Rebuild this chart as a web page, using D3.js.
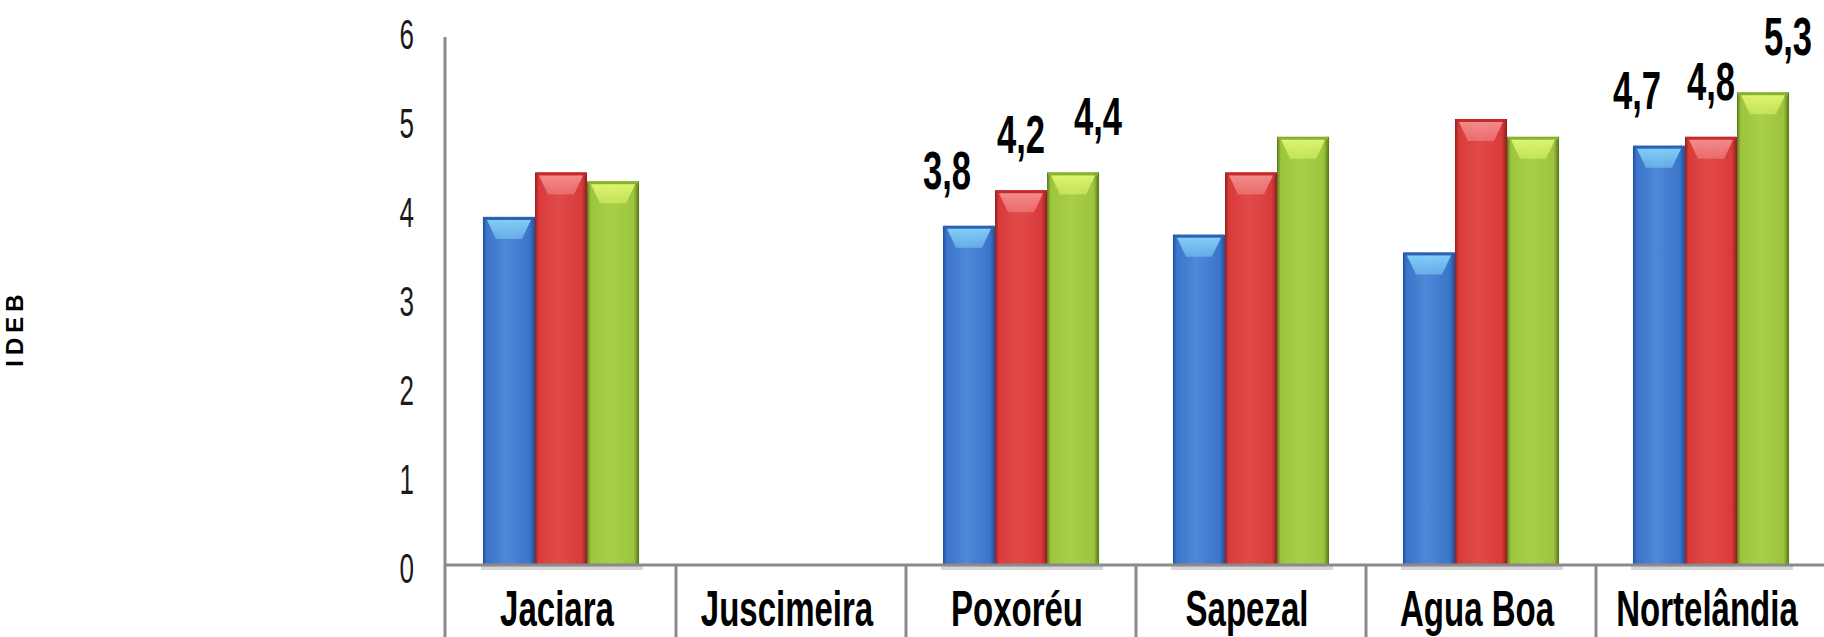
<!DOCTYPE html>
<html><head><meta charset="utf-8">
<script src="https://cdn.jsdelivr.net/npm/d3@7"></script>
<style>body{margin:0;background:#fff}svg{display:block}</style>
</head><body>
<script>
// ---- data ----
const categories = ["Jaciara", "Juscimeira", "Poxoréu", "Sapezal", "Agua Boa", "Nortelândia"];
const seriesNames = ["s1", "s2", "s3"];
const seriesA = [3.9, null, 3.8, 3.7, 3.5, 4.7];
const seriesB = [4.4, null, 4.2, 4.4, 5.0, 4.8];
const seriesC = [4.3, null, 4.4, 4.8, 4.8, 5.3];
const yTicks = [0, 1, 2, 3, 4, 5, 6];
const labeledCategories = ["Poxoréu", "Nortelândia"];
const yTitle = "IDEB";

// ---- styles ----
const W = 1824, H = 637;
const seriesStyle = {
  s1: {base: "#3b74c9", light: "#4f88d8", dark: "#1f4f96", cap: "#80cdf7", edge: "#2d62b3"},
  s2: {base: "#d93a3a", light: "#e24a4a", dark: "#8f1d1d", cap: "#f38a8a", edge: "#c42a2a"},
  s3: {base: "#9cc43c", light: "#a9cf48", dark: "#59731a", cap: "#dcf46e", edge: "#8ab232"}
};
const values = {s1: seriesA, s2: seriesB, s3: seriesC};
const rows = categories.map((c, i) => ({cat: c, vals: seriesNames.map(s => ({s, v: values[s][i]}))}));

const svg = d3.select("body").append("svg").attr("width", W).attr("height", H);

const x = d3.scaleBand().domain(categories).range([446, 1826]).paddingInner(0).paddingOuter(0);
const xs = d3.scaleBand().domain(seriesNames).range([0, x.bandwidth()]).paddingInner(0).paddingOuter(0.71);
const y = d3.scaleLinear().domain([0, 6]).range([564, 30]);

// gradients
const defs = svg.append("defs");
seriesNames.forEach(s => {
  const st = seriesStyle[s];
  const g = defs.append("linearGradient").attr("id", "g-" + s).attr("x1", 0).attr("x2", 1).attr("y1", 0).attr("y2", 0);
  [[0, st.dark], [0.07, st.base], [0.45, st.light], [0.9, st.base], [1, st.dark]].forEach(([o, c]) =>
    g.append("stop").attr("offset", o).attr("stop-color", c));
  const h = defs.append("linearGradient").attr("id", "h-" + s).attr("x1", 0).attr("x2", 0).attr("y1", 0).attr("y2", 1);
  h.append("stop").attr("offset", 0).attr("stop-color", st.cap).attr("stop-opacity", 1);
  h.append("stop").attr("offset", 1).attr("stop-color", st.cap).attr("stop-opacity", 0.55);
});

// soft shadow under the bars, just below the baseline
const groups = svg.append("g").selectAll("g").data(rows).join("g")
  .attr("transform", d => `translate(${x(d.cat)},0)`);
groups.filter(d => d.vals.some(e => e.v != null)).append("rect")
  .attr("x", xs.range()[0] + xs.step() * xs.paddingOuter() - 2)
  .attr("width", xs.bandwidth() * seriesNames.length + 6)
  .attr("y", y(0) + 2).attr("height", 4).attr("fill", "#d6d6d6");

// bars
const bars = groups.selectAll("g.bar").data(d => d.vals.filter(e => e.v != null)).join("g").attr("class", "bar");
bars.append("rect")
  .attr("x", d => xs(d.s)).attr("width", xs.bandwidth())
  .attr("y", d => y(d.v)).attr("height", d => y(0) - y(d.v))
  .attr("fill", d => `url(#g-${d.s})`);
bars.append("rect")
  .attr("x", d => xs(d.s) + 1).attr("width", xs.bandwidth() - 2)
  .attr("y", d => y(d.v)).attr("height", 3)
  .attr("fill", d => seriesStyle[d.s].edge);
bars.append("path")
  .attr("d", d => {
    const x0 = xs(d.s), w = xs.bandwidth(), t = y(d.v) + 3;
    return `M${x0 + 4},${t} L${x0 + w - 4},${t} L${x0 + w - 13},${t + 19} L${x0 + 13},${t + 19} Z`;
  })
  .attr("fill", d => `url(#h-${d.s})`);

// axes lines
const axisColor = "#8a8a8a";
svg.append("line").attr("x1", x.range()[0] - 1).attr("x2", x.range()[0] - 1)
  .attr("y1", y(6) + 7).attr("y2", H).attr("stroke", axisColor).attr("stroke-width", 3);
svg.append("line").attr("x1", x.range()[0] - 1).attr("x2", W)
  .attr("y1", y(0) + 1).attr("y2", y(0) + 1).attr("stroke", axisColor).attr("stroke-width", 3);
svg.append("g").selectAll("line").data(categories.slice(1)).join("line")
  .attr("x1", d => x(d)).attr("x2", d => x(d))
  .attr("y1", y(0)).attr("y2", H).attr("stroke", axisColor).attr("stroke-width", 3);

const font = "'Liberation Sans', Arial, sans-serif";

// y tick labels
svg.append("g").selectAll("g").data(yTicks).join("g")
  .attr("transform", d => `translate(414,${y(d) + 19}) scale(0.62,1)`)
  .append("text").attr("text-anchor", "end")
  .attr("font-family", font).attr("font-size", 42).attr("fill", "#1a1a1a")
  .text(d => d);

// category labels
svg.append("g").selectAll("g").data(categories).join("g")
  .attr("transform", d => `translate(${x(d) + x.bandwidth() / 2 - 4},626) scale(0.66,1)`)
  .append("text").attr("text-anchor", "middle")
  .attr("font-family", font).attr("font-size", 50).attr("font-weight", "bold").attr("fill", "#000")
  .text(d => d);

// data labels
const labelDx = {s1: -22, s2: 0, s3: 25};
const fmt = v => d3.format(".1f")(v).replace(".", ",");
const labelData = [];
rows.filter(r => labeledCategories.includes(r.cat)).forEach(r =>
  r.vals.forEach(e => { if (e.v != null) labelData.push({cat: r.cat, s: e.s, v: e.v}); }));
svg.append("g").selectAll("g").data(labelData).join("g")
  .attr("transform", d => `translate(${x(d.cat) + xs(d.s) + xs.bandwidth() / 2 + labelDx[d.s]},${y(d.v) - 37}) scale(0.64,1)`)
  .append("text").attr("text-anchor", "middle")
  .attr("font-family", font).attr("font-size", 54).attr("font-weight", "bold").attr("fill", "#000")
  .text(d => fmt(d.v));

// y title
svg.append("text")
  .attr("transform", "translate(23,328) rotate(-90)")
  .attr("text-anchor", "middle")
  .attr("font-family", font).attr("font-size", 24).attr("font-weight", "bold")
  .attr("letter-spacing", 5).attr("fill", "#000")
  .text(yTitle);
</script>
</body></html>
